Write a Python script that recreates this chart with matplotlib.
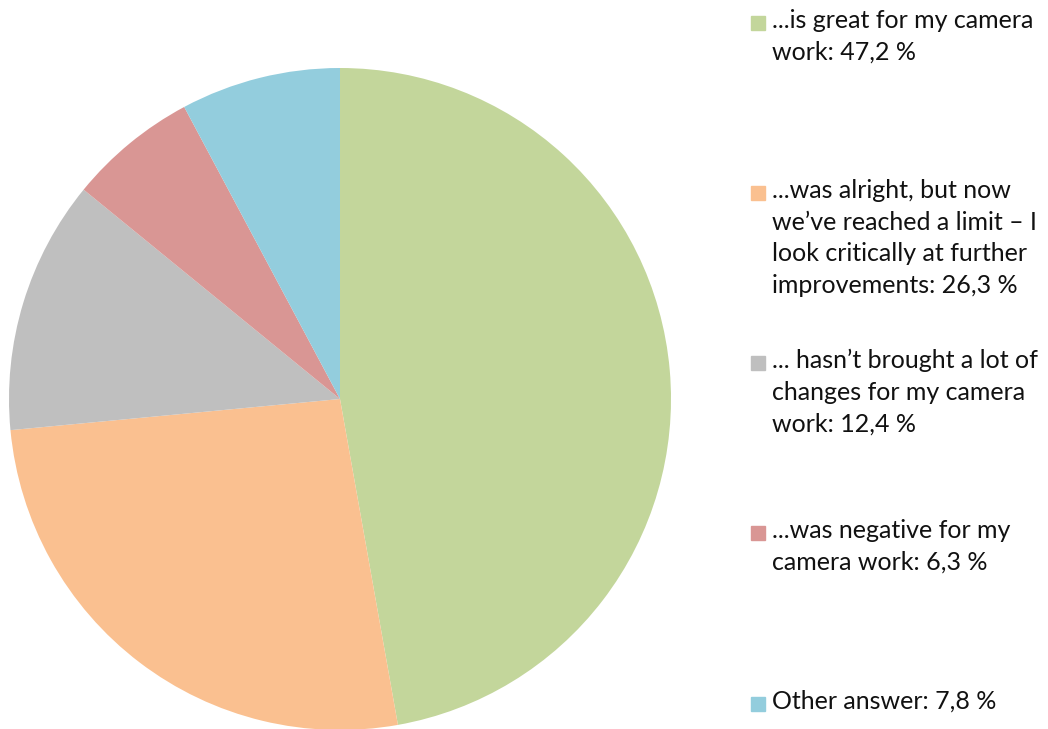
import matplotlib
import matplotlib.pyplot as plt
from matplotlib.patches import Rectangle

matplotlib.use("Agg")

labels = [
    "...is great for my camera\nwork: 47,2 %",
    "...was alright, but now\nwe\u2019ve reached a limit \u2013 I\nlook critically at further\nimprovements: 26,3 %",
    "... hasn\u2019t brought a lot of\nchanges for my camera\nwork: 12,4 %",
    "...was negative for my\ncamera work: 6,3 %",
    "Other answer: 7,8 %",
]
values = [47.2, 26.3, 12.4, 6.3, 7.8]
colors = ["#C3D69B", "#FAC090", "#BFBFBF", "#D99694", "#93CDDD"]

W, H = 1048, 729
fig = plt.figure(figsize=(W / 100, H / 100), dpi=100)
plt.rcParams["font.family"] = ["Lato", "DejaVu Sans"]

# pie centre (340, 399) px, radius 331 px
cx, cy, r = 340, 399, 331
ax = fig.add_axes([(cx - r) / W, (H - cy - r) / H, 2 * r / W, 2 * r / H])
ax.pie(values, colors=colors, startangle=90, counterclock=False,
       radius=1, wedgeprops=dict(linewidth=0))
ax.set_xlim(-1, 1)
ax.set_ylim(-1, 1)
ax.set_aspect("auto")
ax.axis("off")

# legend, drawn by hand
tops = [9, 179, 349, 519, 690]
for lab, col, t in zip(labels, colors, tops):
    fig.patches.append(Rectangle((751 / W, 1 - (t + 21) / H), 14 / W, 14 / H,
                                 transform=fig.transFigure, color=col))
    fig.text(772 / W, 1 - t / H, lab, ha="left", va="top", fontsize=18,
             linespacing=1.46, color="#111111")

fig.savefig("out.png", dpi=100)
